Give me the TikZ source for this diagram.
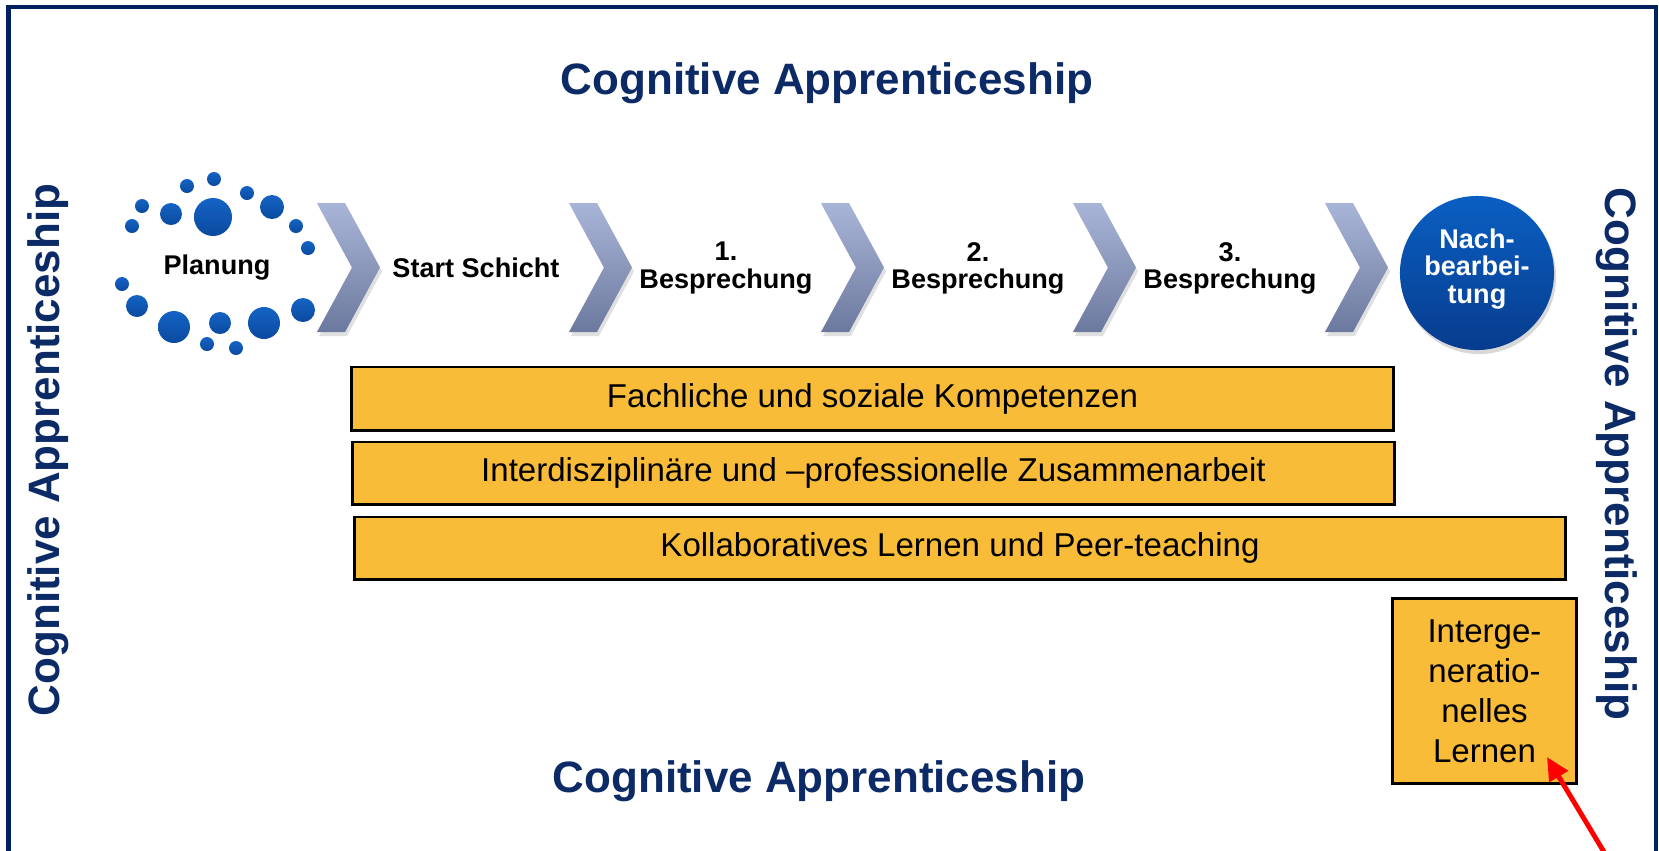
\documentclass[tikz,border=0pt]{standalone}
\usepackage{fontspec}
\setmainfont{Liberation Sans}
\usetikzlibrary{arrows.meta,shadows}
\definecolor{navy}{HTML}{0B2A66}
\definecolor{framecol}{HTML}{002060}
\definecolor{barfill}{HTML}{F8BC38}
\definecolor{chevtop}{HTML}{A9B5D8}
\definecolor{chevbot}{HTML}{6C799E}
\definecolor{dottop}{HTML}{1463C4}
\definecolor{dotbot}{HTML}{0A4A9F}
\definecolor{circtop}{HTML}{0A5FC2}
\definecolor{circbot}{HTML}{073C8E}
\definecolor{arrowred}{HTML}{FF0000}
\begin{document}
\begin{tikzpicture}[x=0.01cm,y=-0.01cm,
  titletext/.style={font=\fontsize{12.5}{15}\selectfont\bfseries, text=navy, inner sep=0pt},
  steptext/.style={font=\fontsize{7.7}{7.7}\selectfont\bfseries, align=center, inner sep=0pt},
  barbox/.style={draw=black, line width=0.85pt, fill=barfill, inner sep=0pt, font=\fontsize{9.4}{11.4}\selectfont, align=center},
  chev/.style={top color=chevtop, bottom color=chevbot, draw=none},
  chevshadow/.style={fill=black, opacity=0.12, draw=none},
  dot/.style={top color=dottop, bottom color=dotbot, draw=none},
  framestyle/.style={draw=framecol, line width=1.3pt},
  redarrow/.style={draw=arrowred, line width=1.4pt, -{Triangle[length=6.5pt,width=6pt]}}
]
\useasboundingbox (0,0) rectangle (1659,850);
\clip (0,0) rectangle (1659,850);
\fill[white] (0,0) rectangle (1659,850);

% frame (bottom edge lies below the picture)
\draw[framestyle] (8.5,860) -- (8.5,7) -- (1656,7) -- (1656,860);

% titles
\node[titletext] (ctop) at (827,83) {Cognitive Apprenticeship};
\node[titletext] (cbot) at (819,781) {Cognitive Apprenticeship};
\node[titletext, rotate=90] (cleft) at (48,450) {Cognitive Apprenticeship};
\node[titletext, rotate=-90] (cright) at (1617,454) {Cognitive Apprenticeship};

% chevrons
\foreach \i in {0,...,4} {
  \path[chevshadow, shift={(319+252*\i,207)}] (0,0) -- (28,0) -- (63,64.5) -- (28,129) -- (0,129) -- (35,64.5) -- cycle;
  \path[chev, shift={(317+252*\i,203)}] (0,0) -- (28,0) -- (63,64.5) -- (28,129) -- (0,129) -- (35,64.5) -- cycle;
}

% dots around Planung
\foreach \x/\y/\r in {214/179/7, 187/186/7, 247/193/7, 142/206/7, 171/214/11,
  213/217/19, 272/207/12, 132/226/7, 296/226/7, 308/248/7, 122/284/7,
  137/306/11, 303/310/12, 174/327/16, 220/323/11, 264/323/16, 207/344/7, 236/348/7} {
  \path[dot] (\x,\y) circle[radius=\r];
}

% step labels
\node[steptext] (planung) at (217,268) {Planung};
\node[steptext] (start) at (476,268) {Start Schicht};
\node[steptext] (b1) at (726,268) {1.\\Besprechung};
\node[steptext] (b2) at (978,268) {2.\\Besprechung};
\node[steptext] (b3) at (1230,268) {3.\\Besprechung};

% Nachbearbeitung circle
\node[circle, minimum size=1.54cm, inner sep=0pt, top color=circtop, bottom color=circbot, draw=none,
  drop shadow={opacity=0.3, shadow xshift=0.02cm, shadow yshift=-0.04cm}] (nach) at (1477,273) {};
\node[steptext, text=white] (nachtext) at (1477,269) {Nach-\\bearbei-\\tung};

% bars
\node[barbox, minimum width=10.41cm, minimum height=0.63cm] (bar1) at (872.5,398.5) {Fachliche und soziale Kompetenzen};
\node[barbox, minimum width=10.41cm, minimum height=0.62cm] (bar2) at (873.5,473) {Interdisziplinäre und –professionelle Zusammenarbeit};
\node[barbox, minimum width=12.10cm, minimum height=0.62cm] (bar3) at (960,548) {Kollaboratives Lernen und Peer-teaching};
\node[barbox, minimum width=1.83cm, minimum height=1.84cm] (box4) at (1484.5,691) {Interge-\\neratio-\\nelles\\Lernen};

% red arrow
\coordinate (astart) at (1610,862);
\coordinate (atip) at (1547,757);
\draw[redarrow] (astart) -- (atip);
\end{tikzpicture}
\end{document}
